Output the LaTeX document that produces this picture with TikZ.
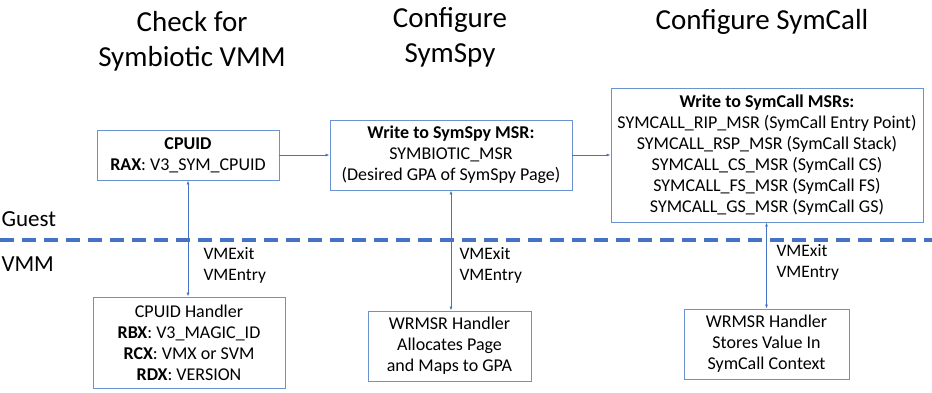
\documentclass[tikz,border=0pt]{standalone}
\usepackage{fontspec}
\setmainfont{Carlito}
\usetikzlibrary{arrows.meta}
\definecolor{lineblue}{HTML}{4472C4}
\definecolor{boxblue}{HTML}{6A92CF}
\begin{document}
\begin{tikzpicture}[x=1pt,y=-1pt,
  box/.style={draw=boxblue,line width=0.9pt,inner sep=0pt,align=center,
    font=\fontsize{18}{21}\selectfont},
  conn/.style={draw=lineblue,line width=0.8pt,-{Latex[length=4pt,width=3pt]}},
  biconn/.style={draw=lineblue,line width=0.8pt,{Latex[length=4pt,width=3pt]}-{Latex[length=4pt,width=3pt]}},
  title/.style={align=center,font=\fontsize{29}{35}\selectfont},
  side/.style={anchor=west,font=\fontsize{23}{28}\selectfont},
  vm/.style={anchor=west,align=left,font=\fontsize{17.5}{21}\selectfont}]
\useasboundingbox (0,0) rectangle (932,392);

% headings
\node[title] (h1) at (192,41) {Check for\\Symbiotic VMM};
\node[title] (h2) at (450,37) {Configure\\SymSpy};
\node[title] (h3) at (762,22) {Configure SymCall};

% guest-side boxes
\node[box,minimum width=182,minimum height=50] (cpuid) at (188,155)
  {\textbf{CPUID}\\\textbf{RAX}: V3\_SYM\_CPUID};
\node[box,minimum width=242,minimum height=70] (spy) at (451,155)
  {\textbf{Write to SymSpy MSR:}\\SYMBIOTIC\_MSR\\(Desired GPA of SymSpy Page)};
\node[box,minimum width=312,minimum height=134] (call) at (767,155)
  {\textbf{Write to SymCall MSRs:}\\SYMCALL\_RIP\_MSR (SymCall Entry Point)\\SYMCALL\_RSP\_MSR (SymCall Stack)\\SYMCALL\_CS\_MSR (SymCall CS)\\SYMCALL\_FS\_MSR (SymCall FS)\\SYMCALL\_GS\_MSR (SymCall GS)};

% VMM-side handlers
\node[box,minimum width=192,minimum height=91] (h-cpuid) at (189,342.5)
  {CPUID Handler\\\textbf{RBX}: V3\_MAGIC\_ID\\\textbf{RCX}: VMX or SVM\\\textbf{RDX}: VERSION};
\node[box,minimum width=163,minimum height=70] (h-spy) at (449.5,346)
  {WRMSR Handler\\Allocates Page\\and Maps to GPA};
\node[box,minimum width=165,minimum height=70] (h-call) at (766.5,344)
  {WRMSR Handler\\Stores Value In\\SymCall Context};

% guest / VMM boundary
\coordinate (bl) at (0,240);
\coordinate (br) at (932,240);
\draw[lineblue,line width=3.5pt,dash pattern=on 14pt off 8pt] (bl) -- (br);
\node[side] (guest) at (-2,219) {Guest};
\node[side] (vmm) at (-2,264) {VMM};

% flow between guest steps
\draw[conn] (cpuid) -- (spy);
\draw[conn] (spy) -- (call);

% exits into the VMM and back
\draw[biconn] (cpuid.south) -- (cpuid.south |- h-cpuid.north);
\draw[biconn] (spy.south) -- (spy.south |- h-spy.north);
\draw[biconn] (call.south -| h-call.north) -- (h-call.north);

\node[vm] (x1) at (200,265) {VMExit\\VMEntry};
\node[vm] (x2) at (456,265) {VMExit\\VMEntry};
\node[vm] (x3) at (773,262) {VMExit\\VMEntry};
\end{tikzpicture}
\end{document}
